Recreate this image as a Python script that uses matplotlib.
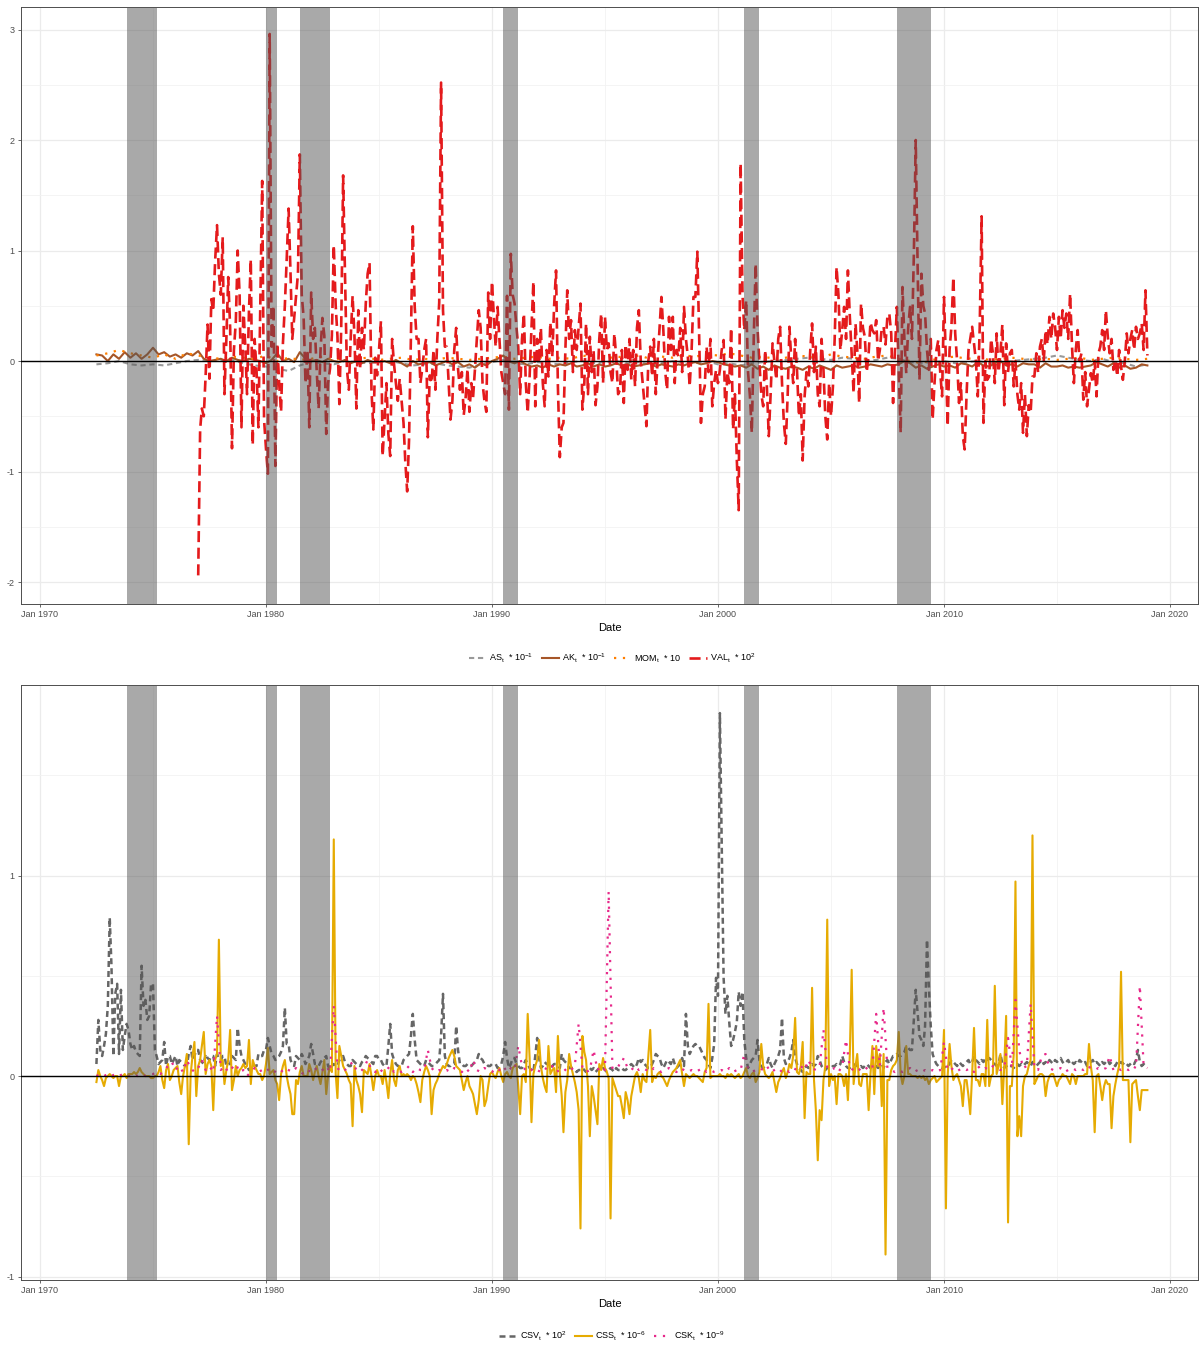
import numpy as np
import pandas as pd
import matplotlib
matplotlib.use('Agg')
import matplotlib.pyplot as plt
import matplotlib.dates as mdates
from matplotlib.ticker import FixedLocator

plt.rcParams['font.family'] = ['Liberation Sans', 'DejaVu Sans']
plt.rcParams['axes.unicode_minus'] = False
plt.rcParams['mathtext.fontset'] = 'custom'
plt.rcParams['mathtext.rm'] = 'Liberation Sans'
plt.rcParams['mathtext.it'] = 'Liberation Sans:italic'

# ---- top panel series ----
# VAL: monthly from Jan 1977
val = [
    -1.94, -0.62, -0.43, -0.5, -0.13, 0.33, -0.16, 0.56, 0.45, 0.9, 1.23, 0.79,      # 1977
    0.6, 1.12, -0.3, 0.2, 0.76, 0.3, -0.79, 0.1, 0.36, 1.0, 0.6, -0.6,               # 1978
    0.5, 0.13, -0.3, 0.45, 0.92, -0.76, 0.2, -0.07, -0.6, 0.5, 1.63, -0.53,          # 1979
    -0.79, -1.02, 2.96, 0.13, 0.5, -0.95, 0.16, -0.2, -0.46, 0.16, 0.5, 0.92,        # 1980
    1.38, 0.79, 0.2, 0.39, 0.59, 0.79, 1.87, 0.6, 0.39, -0.2, 0.1, -0.6,             # 1981
    0.62, 0.2, 0.3, -0.1, -0.43, 0.1, 0.39, 0.23, -0.66, -0.2, -0.07, 0.23,          # 1982
    1.05, 0.5, 0.23, -0.39, 0.3, 1.68, 0.79, -0.07, -0.26, 0.2, 0.59, 0.23,          # 1983
    -0.43, 0.46, -0.07, 0.3, 0.1, 0.52, 0.79, 0.89, -0.26, -0.62, 0.03, -0.13,       # 1984
    0.1, 0.36, -0.86, -0.53, -0.2, -0.66, -0.86, 0.2, -0.03, -0.2, -0.36, -0.16,     # 1985
    -0.36, -0.56, -0.9, -1.18, -0.72, 0.23, 1.22, 0.49, 0.2, 0.2, -0.2, -0.07,       # 1986
    0.1, 0.2, -0.69, -0.13, -0.2, 0.1, -0.26, 0.2, 0.53, 2.52, 0.46, 0.13,           # 1987
    0.13, -0.2, -0.53, -0.36, 0.1, 0.3, -0.07, -0.26, -0.1, -0.49, -0.33, -0.07,     # 1988
    -0.46, -0.2, -0.33, -0.07, 0.2, 0.46, 0.3, -0.2, -0.36, -0.46, 0.62, 0.2,        # 1989
    0.72, 0.39, 0.13, 0.49, 0.2, -0.1, -0.2, -0.3, 0.59, -0.44, 0.97, 0.6,           # 1990
    0.52, 0.3, 0.13, -0.3, 0.2, 0.43, -0.2, -0.47, -0.14, 0.3, 0.72, -0.41,          # 1991
    0.2, -0.02, 0.3, -0.2, -0.41, 0.1, -0.14, 0.35, 0.04, 0.5, 0.82, -0.23,          # 1992
    -0.87, -0.6, -0.56, 0.1, 0.64, 0.2, 0.37, -0.1, 0.28, 0.1, 0.3, 0.52,            # 1993
    -0.44, -0.2, 0.34, -0.3, 0.22, -0.1, 0.1, -0.4, -0.23, 0.2, 0.43, -0.2,          # 1994
    0.4, 0.1, 0.16, -0.1, -0.2, 0.25, 0.04, -0.3, -0.26, 0.1, -0.38, 0.15,           # 1995
    -0.08, 0.2, -0.17, 0.1, -0.23, 0.3, 0.46, 0.0, -0.2, -0.4, -0.59, 0.0,           # 1996
    0.13, -0.14, 0.2, -0.3, 0.01, 0.3, 0.58, 0.28, -0.1, -0.26, 0.4, 0.1,            # 1997
    0.4, -0.2, 0.1, 0.04, 0.3, -0.1, 0.49, 0.2, 0.04, -0.23, 0.1, 0.58,              # 1998
    0.58, 0.99, 0.28, -0.56, -0.3, -0.23, 0.13, -0.1, 0.2, -0.41, -0.2, -0.08,       # 1999
    -0.2, -0.08, 0.1, 0.19, -0.53, -0.1, -0.2, 0.3, -0.62, -0.3, -0.9, -1.35,        # 2000
    1.79, 0.6, 0.28, 0.55, -0.1, -0.32, -0.65, 0.2, 0.88, 0.3, -0.02, -0.3,          # 2001
    -0.41, 0.1, -0.23, -0.68, -0.3, 0.16, 0.0, -0.17, 0.2, 0.31, -0.2, -0.56,        # 2002
    -0.75, -0.3, 0.31, 0.0, -0.2, 0.2, -0.08, -0.5, -0.3, -0.9, -0.32, -0.1,         # 2003
    -0.23, 0.1, 0.34, -0.1, 0.13, -0.3, -0.41, 0.2, -0.08, -0.5, -0.71, -0.2,        # 2004
    -0.5, -0.23, 0.2, 0.85, 0.6, 0.1, 0.28, 0.49, 0.2, 0.82, 0.4, 0.07,              # 2005
    -0.29, 0.34, 0.1, -0.38, 0.52, 0.3, 0.22, -0.1, 0.07, 0.35, 0.28, 0.25,          # 2006
    0.37, 0.0, 0.1, 0.3, 0.31, 0.15, 0.4, 0.43, 0.25, -0.38, 0.1, 0.49,              # 2007
    -0.1, -0.65, 0.67, 0.2, -0.11, 0.3, 0.49, 0.2, 0.97, 2.0, 0.85, -0.17,           # 2008
    0.79, 0.5, 0.43, 0.1, -0.08, 0.2, -0.53, -0.2, 0.1, 0.19, -0.1, -0.32,           # 2009
    0.58, 0.0, -0.59, 0.1, 0.31, 0.76, 0.25, 0.0, -0.38, -0.2, -0.68, -0.8,          # 2010
    -0.3, 0.1, 0.2, 0.31, 0.16, 0.0, -0.32, 0.3, 1.31, -0.56, 0.0, -0.17,            # 2011
    -0.14, 0.2, 0.07, -0.2, 0.25, -0.1, 0.07, 0.33, -0.4, 0.16, -0.1, 0.07,          # 2012
    0.1, -0.23, 0.0, -0.3, -0.44, -0.2, -0.65, -0.3, -0.68, -0.4, -0.47, -0.14,      # 2013
    -0.14, 0.07, -0.1, 0.13, 0.2, 0.0, 0.28, 0.15, 0.4, 0.2, 0.43, 0.31,             # 2014
    0.1, 0.4, 0.2, 0.46, 0.3, 0.43, 0.2, 0.61, 0.13, -0.2, 0.1, 0.28,                # 2015
    0.0, 0.07, -0.35, -0.1, -0.41, -0.26, -0.11, -0.2, 0.0, -0.32, 0.07, 0.13,       # 2016
    0.28, 0.1, 0.46, 0.22, 0.07, 0.2, -0.08, 0.01, -0.14, 0.1, -0.05, -0.17,         # 2017
    0.0, 0.25, 0.07, 0.2, 0.28, 0.1, 0.31, 0.2, 0.25, 0.34, 0.1, 0.64,               # 2018
    0.05,
]

# AK: quarterly from Jul 1972
ak = [
    0.06, 0.05,
    0.0, 0.06, 0.02, 0.08,  0.03, 0.07, 0.02, 0.06,  0.12, 0.06, 0.08, 0.04,
    0.06, 0.03, 0.07, 0.05,  0.09, 0.02, 0.0, 0.01,  0.02, 0.0, 0.03, 0.01,
    0.0, 0.02, 0.01, 0.0,  -0.02, 0.01, 0.07, 0.0,  0.02, -0.01, 0.08, 0.02,
    0.0, 0.01, -0.01, 0.02,  0.0, -0.01, 0.01, -0.02,  0.0, -0.02, 0.01, -0.01,
    -0.01, 0.0, -0.02, 0.01,  -0.02, -0.05, 0.0, -0.03,  -0.02, -0.01, -0.04, -0.02,
    0.0, -0.03, -0.01, -0.05,  -0.03, -0.06, -0.02, -0.04,  0.0, 0.02, 0.05, 0.0,
    -0.02, 0.0, -0.03, -0.05,  -0.04, -0.06, -0.03, -0.05,  -0.03, -0.04, -0.02, -0.05,
    -0.04, -0.02, -0.05, -0.03,  -0.05, -0.04, -0.02, -0.04,  -0.03, -0.05, -0.04, -0.03,
    -0.02, -0.05, -0.03, -0.04,  -0.05, -0.03, -0.04, -0.02,  -0.01, -0.03, -0.02, 0.0,
    -0.01, -0.03, -0.04, -0.05,  -0.04, -0.06, -0.03, -0.07,  -0.05, -0.08, -0.04, -0.06,
    -0.07, -0.05, -0.06, -0.08,  -0.05, -0.07, -0.04, -0.06,  -0.08, -0.04, -0.06, -0.05,
    -0.04, -0.06, -0.05, -0.03,  -0.04, -0.05, -0.03, -0.04,  -0.03, 0.0, -0.02, -0.06,
    -0.04, -0.07, -0.05, -0.03,  -0.05, -0.04, -0.06, -0.02,  -0.03, -0.05, -0.01, -0.04,
    -0.05, -0.02, 0.0, -0.04,  -0.03, -0.05, -0.02, -0.03,  -0.03, -0.06, -0.02, -0.05,
    -0.05, -0.04, -0.06, -0.05,  -0.06, -0.05, -0.04, -0.01,  -0.03, -0.05, -0.02, -0.06,
    -0.04, -0.07, -0.06, -0.03,
    -0.04,
]

# AS and MOM: half-yearly from Jul 1972
as_ = [
    -0.03, -0.02, 0.0, -0.03, -0.04, -0.03, -0.04, -0.02, 0.0, 0.01, 0.0,
    0.0, 0.01, -0.02, -0.04, -0.05, -0.07, -0.09, -0.04, -0.01, -0.02,
    -0.03, 0.0, -0.01, -0.02, -0.01, 0.0, -0.02, -0.04, -0.03, -0.02,
    -0.04, -0.05, -0.06, -0.03, -0.01, 0.01, -0.02, -0.03, -0.01, -0.02,
    -0.03, -0.01, 0.0, -0.02, -0.01, 0.0, -0.02, -0.01, -0.03, -0.02,
    0.0, -0.01, -0.02, 0.0, -0.03, -0.02, -0.04, -0.02, -0.01, 0.0,
    0.01, 0.02, 0.03, 0.02, 0.01, 0.03, 0.02, 0.0, 0.01, 0.03,
    0.02, -0.01, -0.02, -0.01, 0.0, -0.02, -0.01, 0.0, -0.02, -0.01,
    0.0, 0.01, 0.02, 0.03, 0.05, 0.03, 0.01, 0.0, 0.02, -0.01,
    -0.02, -0.05, -0.03,
]
mom = [
    0.05, 0.07, 0.1, 0.07, 0.05, 0.03, 0.06, 0.02, 0.07, 0.05, 0.03,
    0.02, 0.04, 0.03, 0.02, 0.05, 0.0, 0.03, 0.01, 0.02, 0.04,
    0.01, 0.03, 0.02, 0.03, 0.01, 0.02, 0.03, 0.01, 0.02, 0.01,
    0.03, 0.02, 0.01, 0.02, 0.03, 0.04, 0.02, 0.03, 0.04, 0.02,
    0.03, 0.02, 0.05, 0.03, 0.02, 0.04, 0.03, 0.05, 0.02, 0.04,
    0.03, 0.05, 0.04, 0.06, 0.05, 0.07, 0.05, 0.03, 0.04, 0.02,
    0.03, 0.05, 0.04, 0.03, 0.06, 0.04, 0.03, 0.02, 0.04, 0.05,
    0.02, 0.0, -0.02, 0.01, 0.03, 0.04, 0.02, 0.03, 0.01, 0.02,
    0.03, 0.02, 0.01, 0.02, 0.01, 0.02, 0.03, 0.01, 0.02, 0.03,
    0.02, 0.01, 0.02,
]

# ---- bottom panel series ----
# CSV and CSS: monthly from Jul 1972
csv = [
    0.06, 0.28, 0.13, 0.1, 0.15, 0.21,                                        # 1972
    0.35, 0.79, 0.55, 0.1, 0.41, 0.46, 0.11, 0.43, 0.13, 0.2, 0.26, 0.23,     # 1973
    0.16, 0.13, 0.15, 0.12, 0.11, 0.1, 0.55, 0.35, 0.38, 0.28, 0.3, 0.46,     # 1974
    0.46, 0.13, 0.1, 0.06, 0.07, 0.08, 0.17, 0.05, 0.1, 0.1, 0.06, 0.08,      # 1975
    0.1, 0.05, 0.08, 0.07, 0.06, 0.05, 0.05, 0.11, 0.15, 0.08, 0.1, 0.13,     # 1976
    0.13, 0.08, 0.07, 0.06, 0.11, 0.09, 0.08, 0.1, 0.1, 0.05, 0.11, 0.08,     # 1977
    0.08, 0.1, 0.1, 0.05, 0.06, 0.06, 0.1, 0.09, 0.08, 0.24, 0.15, 0.1,       # 1978
    0.08, 0.06, 0.05, 0.03, 0.04, 0.06, 0.05, 0.05, 0.11, 0.1, 0.1, 0.13,     # 1979
    0.13, 0.19, 0.15, 0.11, 0.1, 0.08, 0.09, 0.1, 0.12, 0.15, 0.34, 0.16,     # 1980
    0.16, 0.08, 0.06, 0.05, 0.1, 0.09, 0.08, 0.11, 0.09, 0.06, 0.08, 0.1,     # 1981
    0.16, 0.11, 0.06, 0.06, 0.05, 0.07, 0.08, 0.09, 0.1, 0.05, 0.03, 0.05,    # 1982
    0.06, 0.05, 0.05, 0.08, 0.09, 0.1, 0.07, 0.06, 0.05, 0.05, 0.08, 0.07,    # 1983
    0.06, 0.06, 0.05, 0.07, 0.08, 0.1, 0.09, 0.08, 0.07, 0.06, 0.1, 0.1,      # 1984
    0.08, 0.08, 0.06, 0.05, 0.05, 0.15, 0.26, 0.11, 0.08, 0.06, 0.05, 0.05,   # 1985
    0.05, 0.08, 0.09, 0.1, 0.11, 0.2, 0.31, 0.18, 0.08, 0.07, 0.06, 0.05,     # 1986
    0.05, 0.08, 0.07, 0.06, 0.05, 0.05, 0.06, 0.07, 0.08, 0.2, 0.41, 0.1,     # 1987
    0.06, 0.05, 0.05, 0.06, 0.06, 0.25, 0.13, 0.06, 0.06, 0.05, 0.05, 0.06,   # 1988
    0.05, 0.05, 0.06, 0.07, 0.08, 0.11, 0.09, 0.08, 0.06, 0.06, 0.05, 0.05,   # 1989
    0.06, 0.06, 0.06, 0.04, 0.05, 0.06, 0.1, 0.17, 0.09, 0.04, 0.06, 0.09,    # 1990
    0.09, 0.06, 0.05, 0.04, 0.04, 0.06, 0.08, 0.06, 0.04, 0.03, 0.02, 0.1,    # 1991
    0.19, 0.09, 0.04, 0.05, 0.07, 0.06, 0.06, 0.04, 0.05, 0.06, 0.06, 0.05,   # 1992
    0.04, 0.11, 0.08, 0.07, 0.06, 0.04, 0.04, 0.04, 0.03, 0.02, 0.03, 0.03,   # 1993
    0.04, 0.03, 0.02, 0.03, 0.04, 0.03, 0.04, 0.02, 0.03, 0.04, 0.03, 0.04,   # 1994
    0.03, 0.02, 0.03, 0.04, 0.03, 0.02, 0.04, 0.03, 0.03, 0.04, 0.03, 0.03,   # 1995
    0.04, 0.05, 0.06, 0.05, 0.04, 0.06, 0.09, 0.07, 0.08, 0.06, 0.05, 0.04,   # 1996
    0.04, 0.06, 0.08, 0.11, 0.1, 0.09, 0.06, 0.04, 0.06, 0.08, 0.07, 0.06,    # 1997
    0.09, 0.06, 0.04, 0.05, 0.06, 0.09, 0.05, 0.31, 0.15, 0.11, 0.13, 0.15,   # 1998
    0.16, 0.15, 0.15, 0.13, 0.11, 0.09, 0.08, 0.06, 0.04, 0.09, 0.16, 0.49,   # 1999
    0.4, 1.81, 1.16, 0.49, 0.31, 0.4, 0.27, 0.15, 0.18, 0.22, 0.27, 0.42,     # 2000
    0.35, 0.42, 0.18, 0.09, 0.04, 0.06, 0.08, 0.09, 0.1, 0.18, 0.08, 0.05,    # 2001
    0.04, 0.05, 0.06, 0.09, 0.06, 0.04, 0.06, 0.08, 0.1, 0.13, 0.29, 0.09,    # 2002
    0.06, 0.07, 0.09, 0.12, 0.18, 0.09, 0.06, 0.04, 0.03, 0.02, 0.04, 0.05,   # 2003
    0.04, 0.05, 0.06, 0.05, 0.06, 0.1, 0.08, 0.05, 0.04, 0.03, 0.04, 0.05,    # 2004
    0.04, 0.05, 0.05, 0.06, 0.05, 0.06, 0.1, 0.07, 0.05, 0.04, 0.04, 0.05,    # 2005
    0.05, 0.06, 0.05, 0.04, 0.05, 0.04, 0.05, 0.06, 0.05, 0.04, 0.05, 0.05,   # 2006
    0.05, 0.04, 0.05, 0.06, 0.04, 0.07, 0.08, 0.06, 0.08, 0.1, 0.1, 0.11,     # 2007
    0.1, 0.1, 0.11, 0.12, 0.15, 0.14, 0.13, 0.13, 0.28, 0.43, 0.31, 0.2,      # 2008
    0.18, 0.15, 0.25, 0.68, 0.45, 0.25, 0.11, 0.08, 0.06, 0.05, 0.05, 0.04,   # 2009
    0.05, 0.04, 0.05, 0.06, 0.08, 0.07, 0.06, 0.05, 0.07, 0.06, 0.05, 0.06,   # 2010
    0.07, 0.08, 0.06, 0.07, 0.1, 0.08, 0.07, 0.06, 0.08, 0.07, 0.09, 0.08,    # 2011
    0.09, 0.08, 0.07, 0.06, 0.05, 0.06, 0.11, 0.06, 0.04, 0.05, 0.04, 0.05,   # 2012
    0.05, 0.04, 0.05, 0.06, 0.05, 0.06, 0.05, 0.06, 0.07, 0.06, 0.05, 0.07,   # 2013
    0.06, 0.05, 0.06, 0.07, 0.08, 0.06, 0.07, 0.06, 0.08, 0.07, 0.06, 0.08,   # 2014
    0.07, 0.08, 0.09, 0.07, 0.06, 0.07, 0.08, 0.06, 0.07, 0.06, 0.07, 0.06,   # 2015
    0.08, 0.07, 0.06, 0.07, 0.05, 0.06, 0.07, 0.08, 0.06, 0.07, 0.06, 0.05,   # 2016
    0.07, 0.06, 0.07, 0.08, 0.06, 0.07, 0.06, 0.05, 0.07, 0.06, 0.07, 0.06,   # 2017
    0.07, 0.06, 0.05, 0.06, 0.07, 0.06, 0.08, 0.13, 0.07, 0.05, 0.06, 0.05,   # 2018
    0.05,
]

css = [
    -0.03, 0.03, 0.0, -0.02, -0.05, -0.01,                                          # 1972
    0.0, 0.01, 0.0, -0.01, 0.0, 0.0, -0.05, 0.0, 0.0, 0.01, -0.01, 0.01,            # 1973
    0.01, 0.01, 0.02, 0.01, 0.02, 0.04, 0.02, 0.01, 0.0, 0.0, 0.0, -0.01,           # 1974
    -0.01, 0.0, 0.0, 0.02, 0.05, -0.02, -0.06, 0.03, 0.06, -0.02, 0.0, 0.03,        # 1975
    0.04, 0.05, -0.03, -0.09, 0.0, 0.05, 0.11, -0.34, 0.01, 0.1, 0.17, -0.1,        # 1976
    0.05, 0.08, 0.15, 0.22, 0.01, 0.06, 0.08, 0.05, -0.17, 0.08, 0.11, 0.68,        # 1977
    0.05, 0.08, -0.04, 0.03, 0.08, 0.23, -0.07, -0.02, 0.05, 0.0, 0.03, 0.04,       # 1978
    0.06, 0.04, 0.05, 0.18, -0.04, 0.08, 0.05, 0.03, 0.01, 0.01, -0.02, 0.0,        # 1979
    0.06, 0.14, 0.01, 0.02, 0.03, -0.02, -0.04, -0.12, 0.01, 0.05, 0.08, 0.0,       # 1980
    -0.05, -0.09, -0.19, -0.19, -0.02, -0.04, 0.02, 0.05, 0.0, 0.0, 0.0, 0.06,      # 1981
    0.03, -0.02, 0.02, 0.05, 0.0, -0.04, 0.02, 0.08, -0.09, 0.0, 0.05, 0.02,        # 1982
    1.18, 0.01, -0.11, 0.15, 0.1, 0.05, 0.03, 0.01, -0.02, -0.04, -0.25, 0.05,      # 1983
    -0.02, -0.05, -0.09, -0.18, 0.03, 0.02, 0.01, 0.06, 0.0, -0.07, 0.0, 0.03,      # 1984
    0.0, 0.0, -0.04, 0.03, -0.03, -0.11, 0.01, 0.08, -0.02, -0.05, 0.03, 0.05,      # 1985
    0.0, 0.01, 0.0, 0.01, 0.0, -0.02, 0.0, -0.01, -0.04, -0.08, -0.13, -0.02,       # 1986
    0.02, 0.05, 0.03, 0.0, -0.19, -0.07, -0.04, -0.02, 0.01, 0.03, 0.05, 0.04,      # 1987
    0.06, 0.09, 0.11, 0.13, 0.1, 0.05, 0.04, 0.03, -0.02, -0.07, -0.03, 0.0,        # 1988
    -0.05, -0.07, -0.09, -0.14, -0.19, -0.12, 0.0, -0.02, -0.15, -0.12, -0.05, 0.01,  # 1989
    0.02, 0.0, -0.01, 0.02, 0.04, 0.0, -0.03, 0.01, 0.02, 0.0, -0.01, 0.04,         # 1990
    0.05, 0.06, -0.05, -0.19, 0.0, 0.01, -0.03, 0.31, 0.09, -0.23, 0.01, 0.05,      # 1991
    0.08, 0.18, 0.05, -0.01, -0.05, -0.08, 0.15, 0.01, 0.03, 0.04, -0.08, 0.2,      # 1992
    0.01, -0.1, -0.28, -0.08, -0.02, 0.11, 0.05, 0.01, -0.03, -0.08, -0.17, -0.76,  # 1993
    0.2, 0.12, 0.08, -0.05, -0.3, -0.05, -0.1, -0.17, -0.24, 0.06, 0.03, 0.09,      # 1994
    0.04, 0.02, -0.01, -0.71, -0.01, -0.04, -0.07, -0.1, -0.1, -0.15, -0.21, -0.08,  # 1995
    -0.12, -0.19, -0.1, -0.05, 0.0, 0.02, -0.01, -0.08, 0.01, -0.02, -0.03, 0.1,    # 1996
    0.23, -0.03, 0.0, -0.01, 0.01, 0.02, 0.0, -0.01, -0.03, -0.05, -0.02, 0.0,      # 1997
    0.02, 0.03, 0.04, 0.06, 0.08, 0.01, -0.05, 0.01, 0.0, -0.01, 0.0, 0.01,         # 1998
    0.0, 0.0, -0.01, -0.02, -0.03, 0.02, 0.04, 0.36, -0.01, 0.0, 0.0, 0.0,          # 1999
    0.0, 0.01, 0.0, 0.0, -0.01, 0.01, 0.0, 0.01, 0.0, -0.01, 0.0, 0.01,             # 2000
    -0.01, 0.0, 0.02, 0.04, 0.0, -0.01, 0.01, 0.02, -0.03, -0.01, 0.02, 0.16,       # 2001
    0.05, 0.01, 0.0, -0.01, 0.0, 0.02, -0.03, -0.08, -0.03, -0.01, 0.02, 0.04,      # 2002
    -0.01, 0.02, 0.06, 0.04, 0.1, 0.29, 0.02, 0.01, 0.05, 0.17, -0.21, 0.02,        # 2003
    0.01, 0.01, 0.44, -0.02, -0.17, -0.42, -0.17, -0.22, -0.02, 0.05, 0.78, -0.05,  # 2004
    0.01, -0.02, 0.0, -0.14, 0.01, 0.01, 0.0, -0.05, 0.01, -0.12, 0.11, 0.53,       # 2005
    -0.04, 0.05, 0.11, -0.04, -0.05, 0.01, 0.01, 0.01, -0.17, 0.01, 0.15, -0.09,    # 2006
    0.15, 0.05, 0.11, -0.15, 0.11, -0.89, -0.02, -0.02, 0.03, 0.05, 0.06, 0.08,     # 2007
    0.22, 0.01, -0.04, 0.0, 0.15, 0.01, 0.01, 0.0, 0.0, 0.0, -0.01, 0.0,            # 2008
    -0.01, 0.0, -0.02, -0.01, -0.04, -0.02, -0.01, 0.0, -0.03, -0.02, -0.01, 0.0,   # 2009
    0.23, -0.66, 0.0, 0.16, 0.05, -0.02, 0.0, 0.01, -0.02, -0.05, -0.15, -0.02,     # 2010
    -0.02, -0.1, -0.19, 0.01, 0.24, -0.02, -0.02, -0.05, 0.01, 0.01, -0.05, 0.28,   # 2011
    -0.05, 0.0, 0.01, 0.45, 0.01, 0.05, 0.11, -0.14, 0.05, 0.3, -0.73, -0.05,       # 2012
    -0.05, 0.11, 0.97, -0.3, -0.2, -0.3, -0.05, 0.0, 0.01, 0.05, 0.08, 1.2,         # 2013
    -0.04, -0.02, 0.0, 0.01, 0.01, 0.0, -0.1, -0.03, 0.0, 0.01, 0.01, -0.02,        # 2014
    -0.05, -0.02, -0.01, 0.01, 0.0, 0.0, -0.02, -0.04, 0.01, 0.0, -0.04, 0.0,       # 2015
    0.0, 0.0, 0.0, 0.01, 0.01, 0.16, 0.05, -0.02, -0.28, 0.0, 0.01, -0.05,          # 2016
    -0.12, -0.05, -0.02, -0.04, -0.04, -0.26, -0.1, -0.04, 0.01, 0.05, 0.52, -0.02,  # 2017
    -0.02, -0.02, -0.02, -0.33, -0.04, -0.03, -0.02, -0.1, -0.17, -0.07, -0.07, -0.07,  # 2018
    -0.07,
]

# CSK: every second month from Jul 1972
csk = [
    0.0, 0.01, 0.0,
    0.01, 0.0, 0.01, 0.0, 0.01, 0.0,          # 1973
    0.0, 0.01, 0.0, 0.01, 0.0, 0.01,          # 1974
    0.01, 0.02, 0.01, 0.03, 0.05, 0.07,       # 1975
    0.03, 0.05, 0.02, 0.08, 0.04, 0.02,       # 1976
    0.04, 0.08, 0.03, 0.05, 0.02, 0.3,        # 1977
    0.03, 0.05, 0.02, 0.04, 0.06, 0.02,       # 1978
    0.03, 0.0, 0.02, 0.04, 0.02, 0.03,        # 1979
    0.02, 0.04, 0.03, 0.01, 0.02, 0.04,       # 1980
    0.03, 0.02, 0.04, 0.02, 0.01, 0.03,       # 1981
    0.02, 0.04, 0.02, 0.03, 0.05, 0.02,       # 1982
    0.35, 0.04, 0.02, 0.03, 0.05, 0.07,       # 1983
    0.03, 0.02, 0.04, 0.08, 0.03, 0.02,       # 1984
    0.04, 0.02, 0.03, 0.05, 0.02, 0.03,       # 1985
    0.02, 0.03, 0.05, 0.02, 0.04, 0.03,       # 1986
    0.03, 0.13, 0.04, 0.02, 0.03, 0.02,       # 1987
    0.03, 0.02, 0.04, 0.03, 0.02, 0.04,       # 1988
    0.02, 0.08, 0.03, 0.02, 0.04, 0.03,       # 1989
    0.02, 0.04, 0.03, 0.05, 0.02, 0.04,       # 1990
    0.03, 0.15, 0.05, 0.03, 0.02, 0.04,       # 1991
    0.03, 0.02, 0.04, 0.03, 0.05, 0.02,       # 1992
    0.03, 0.04, 0.02, 0.03, 0.05, 0.26,       # 1993
    0.04, 0.02, 0.03, 0.13, 0.03, 0.05,       # 1994
    0.03, 0.92, 0.04, 0.06, 0.05, 0.09,       # 1995
    0.04, 0.03, 0.05, 0.03, 0.04, 0.03,       # 1996
    0.02, 0.04, 0.03, 0.02, 0.03, 0.04,       # 1997
    0.03, 0.02, 0.04, 0.03, 0.02, 0.03,       # 1998
    0.02, 0.03, 0.04, 0.02, 0.03, 0.02,       # 1999
    0.02, 0.03, 0.02, 0.04, 0.02, 0.03,       # 2000
    0.03, 0.11, 0.04, 0.02, 0.03, 0.04,       # 2001
    0.03, 0.05, 0.02, 0.03, 0.04, 0.02,       # 2002
    0.03, 0.02, 0.04, 0.03, 0.05, 0.03,       # 2003
    0.08, 0.04, 0.03, 0.05, 0.23, 0.04,       # 2004
    0.03, 0.04, 0.02, 0.05, 0.18, 0.04,       # 2005
    0.03, 0.02, 0.04, 0.03, 0.05, 0.04,       # 2006
    0.31, 0.05, 0.34, 0.04, 0.03, 0.02,       # 2007
    0.03, 0.02, 0.03, 0.04, 0.02, 0.03,       # 2008
    0.02, 0.03, 0.02, 0.03, 0.02, 0.03,       # 2009
    0.17, 0.03, 0.04, 0.02, 0.03, 0.04,       # 2010
    0.03, 0.04, 0.02, 0.05, 0.03, 0.04,       # 2011
    0.03, 0.05, 0.04, 0.03, 0.04, 0.19,       # 2012
    0.04, 0.38, 0.13, 0.04, 0.05, 0.36,       # 2013
    0.04, 0.03, 0.1, 0.11, 0.04, 0.03,        # 2014
    0.03, 0.04, 0.02, 0.03, 0.04, 0.03,       # 2015
    0.04, 0.03, 0.05, 0.04, 0.03, 0.04,       # 2016
    0.03, 0.04, 0.1, 0.03, 0.04, 0.03,        # 2017
    0.04, 0.03, 0.05, 0.04, 0.45, 0.05,       # 2018
    0.04,
]

# NBER recessions
rec_start = ['1973-11-01', '1980-01-01', '1981-07-01', '1990-07-01', '2001-03-01', '2007-12-01']
rec_end = ['1975-03-01', '1980-07-01', '1982-11-01', '1991-03-01', '2001-11-01', '2009-06-01']

top_labels = [r'AS$_\mathrm{t}$  * 10$^{-1}$', r'AK$_\mathrm{t}$  * 10$^{-1}$',
              r'MOM$_\mathrm{t}$  * 10', r'VAL$_\mathrm{t}$  * 10$^{2}$']
bot_labels = [r'CSV$_\mathrm{t}$  * 10$^{2}$', r'CSS$_\mathrm{t}$  * 10$^{-6}$',
              r'CSK$_\mathrm{t}$  * 10$^{-9}$']

d_val = pd.date_range('1977-01-01', periods=len(val), freq='MS')
d_ak = pd.date_range('1972-07-01', periods=len(ak), freq='3MS')
d_as = pd.date_range('1972-07-01', periods=len(as_), freq='6MS')
d_mom = pd.date_range('1972-07-01', periods=len(mom), freq='6MS')
d_csv = pd.date_range('1972-07-01', periods=len(csv), freq='MS')
d_css = pd.date_range('1972-07-01', periods=len(css), freq='MS')
d_csk = pd.date_range('1972-07-01', periods=len(csk), freq='2MS')

W, H = 1200, 1349
fig = plt.figure(figsize=(W / 100, H / 100), dpi=100)
ax1 = fig.add_axes([21 / W, 1 - 604 / H, 1177 / W, 597 / H])
ax2 = fig.add_axes([21 / W, 1 - 1280 / H, 1177 / W, 595 / H])


def style_panel(ax, ylim, yticks, yminor):
    ax.set_xlim(pd.Timestamp('1969-02-28'), pd.Timestamp('2021-03-29'))
    ax.set_ylim(*ylim)
    ax.xaxis.set_major_locator(mdates.YearLocator(10))
    ax.xaxis.set_minor_locator(FixedLocator(
        [mdates.date2num(pd.Timestamp(f'{y}-01-01')) for y in range(1965, 2025, 10)]))
    ax.xaxis.set_major_formatter(mdates.DateFormatter('%b %Y'))
    ax.set_yticks(yticks)
    ax.set_yticks(yminor, minor=True)
    ax.set_yticklabels([str(t) for t in yticks])
    ax.grid(which='major', color='#EBEBEB', lw=0.9, zorder=0)
    ax.grid(which='minor', color='#F2F2F2', lw=0.6, zorder=0)
    ax.set_axisbelow(True)
    for s in ax.spines.values():
        s.set_color('#4D4D4D')
        s.set_linewidth(0.7)
    ax.tick_params(which='major', length=2.5, width=0.6, color='#4D4D4D',
                   labelsize=6.5, labelcolor='#4D4D4D', pad=2)
    ax.tick_params(which='minor', length=0)
    ax.set_xlabel('Date', fontsize=8, labelpad=3)
    for a, b in zip(rec_start, rec_end):
        ax.axvspan(pd.Timestamp(a), pd.Timestamp(b), color='#555555', alpha=0.5, lw=0, zorder=3)
    ax.axhline(0, color='black', lw=1.0, zorder=4)


# top panel
ax1.plot(d_as, as_, color='#999999', lw=1.5, ls=(0, (2.5, 1.8)), label=top_labels[0], zorder=2)
ax1.plot(d_ak, ak, color='#A65628', lw=1.5, label=top_labels[1], zorder=2)
ax1.plot(d_mom, mom, color='#FF7F00', lw=1.6, ls=(0, (1, 3)), label=top_labels[2], zorder=2)
ax1.plot(d_val, val, color='#E41A1C', lw=1.9, ls=(0, (4.2, 2.1)), label=top_labels[3], zorder=2)
style_panel(ax1, (-2.199, 3.204), [-2, -1, 0, 1, 2, 3], [-1.5, -0.5, 0.5, 1.5, 2.5])

# bottom panel
ax2.plot(d_csv, csv, color='#666666', lw=1.8, ls=(0, (2.4, 1.6)), label=bot_labels[0], zorder=2)
ax2.plot(d_css, css, color='#E6AB02', lw=1.5, label=bot_labels[1], zorder=2)
ax2.plot(d_csk, csk, color='#E7298A', lw=1.6, ls=(0, (1, 3)), label=bot_labels[2], zorder=2)
style_panel(ax2, (-1.017, 1.950), [-1, 0, 1], [-0.5, 0.5, 1.5])

for ax, ypix, ncol in [(ax1, 658, 4), (ax2, 1336, 3)]:
    h, l = ax.get_legend_handles_labels()
    fig.legend(h, l, loc='center', bbox_to_anchor=(612 / W, 1 - ypix / H), ncol=ncol,
               frameon=False, fontsize=6.5, handlelength=1.9, handletextpad=0.35,
               columnspacing=0.9)

fig.savefig('out.png', dpi=100)
